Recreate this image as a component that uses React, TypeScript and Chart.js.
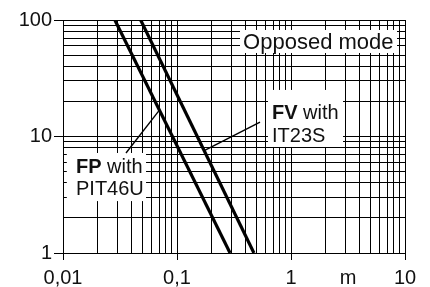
import React, { useEffect, useRef } from 'react';
import { Chart, registerables } from 'chart.js';

Chart.register(...registerables);

// ---- data ----
const fpDistance = [0.0285, 0.292];
const fpGain = [100, 1];
const fvDistance = [0.048, 0.473];
const fvGain = [100, 1];

const xMajorTicks = [0.01, 0.1, 1, 10];
const xTickLabels = ['0,01', '0,1', '1', '10'];
const xUnitTick = 3.1623;
const xUnitLabel = 'm';
const yMajorTicks = [1, 10, 100];
const yTickLabels = ['1', '10', '100'];

// ---- annotation layout (data coordinates) ----
type Part = { t: string; bold?: boolean };
const annotations: {
  box: [number, number, number, number];
  lines: Part[][];
  textX: number;
  baselines: number[];
  size: number;
  leader: [number, number, number, number] | null;
}[] = [
  {
    box: [0.357, 8.51, 82.1, 52.1],
    lines: [[{ t: 'Opposed mode' }]],
    textX: 0.38,
    baselines: [56.4],
    size: 22,
    leader: null,
  },
  {
    box: [0.628, 2.86, 25.1, 8.13],
    lines: [[{ t: 'FV', bold: true }, { t: ' with' }], [{ t: 'IT23S' }]],
    textX: 0.681,
    baselines: [14.1, 8.97],
    size: 20,
    leader: [0.535, 13.3, 0.175, 7.6],
  },
  {
    box: [0.0108, 0.0535, 7.22, 2.79],
    lines: [[{ t: 'FP', bold: true }, { t: ' with' }], [{ t: 'PIT46U' }]],
    textX: 0.013,
    baselines: [4.86, 3.15],
    size: 20,
    leader: [0.0357, 7.22, 0.069, 16.5],
  },
];

const FONT = '"Liberation Sans", Arial, sans-serif';

const near = (a: number, b: number) => Math.abs(a - b) / b < 1e-6;
const isIn = (v: number, arr: number[]) => arr.some((m) => near(v, m));

const decadeTicks = (majors: number[]) => {
  const out: { value: number }[] = [];
  for (let i = 0; i < majors.length - 1; i++) {
    for (let k = 1; k <= 9; k++) out.push({ value: Number((k * majors[i]).toPrecision(4)) });
  }
  out.push({ value: majors[majors.length - 1] });
  return out;
};

const labelPlugin = {
  id: 'boxLabels',
  beforeDatasetsDraw(chart: any) {
    const { ctx } = chart;
    const xs = chart.scales.x;
    const ys = chart.scales.y;
    ctx.save();
    for (const a of annotations) {
      const x1 = xs.getPixelForValue(a.box[0]);
      const x2 = xs.getPixelForValue(a.box[1]);
      const y1 = ys.getPixelForValue(a.box[2]);
      const y2 = ys.getPixelForValue(a.box[3]);
      ctx.fillStyle = '#fff';
      ctx.fillRect(x1, y1, x2 - x1, y2 - y1);
      ctx.fillStyle = '#111';
      ctx.textAlign = 'left';
      ctx.textBaseline = 'alphabetic';
      a.lines.forEach((line, i) => {
        let px = xs.getPixelForValue(a.textX);
        const py = ys.getPixelForValue(a.baselines[i]);
        for (const p of line) {
          ctx.font = `${p.bold ? 'bold ' : ''}${a.size}px ${FONT}`;
          ctx.fillText(p.t, px, py);
          px += ctx.measureText(p.t).width;
        }
      });
      if (a.leader) {
        ctx.strokeStyle = '#000';
        ctx.lineWidth = 1.4;
        ctx.beginPath();
        ctx.moveTo(xs.getPixelForValue(a.leader[0]), ys.getPixelForValue(a.leader[1]));
        ctx.lineTo(xs.getPixelForValue(a.leader[2]), ys.getPixelForValue(a.leader[3]));
        ctx.stroke();
      }
    }
    ctx.restore();
  },
};

export default function App() {
  const ref = useRef<HTMLCanvasElement | null>(null);
  useEffect(() => {
    if (!ref.current) return;
    const chart = new Chart(ref.current, {
      type: 'line',
      data: {
        datasets: [
          {
            label: 'FP with PIT46U',
            data: fpDistance.map((x, i) => ({ x, y: fpGain[i] })),
            borderColor: '#000',
            borderWidth: 3.2,
            pointRadius: 0,
          },
          {
            label: 'FV with IT23S',
            data: fvDistance.map((x, i) => ({ x, y: fvGain[i] })),
            borderColor: '#000',
            borderWidth: 3.2,
            pointRadius: 0,
          },
        ],
      },
      options: {
        animation: false,
        responsive: false,
        devicePixelRatio: 1,
        layout: { padding: { top: 20, right: 25, left: 0, bottom: 0 } },
        plugins: { legend: { display: false }, tooltip: { enabled: false } },
        scales: {
          x: {
            type: 'logarithmic',
            min: 0.01,
            max: 10,
            afterBuildTicks: (s: any) => {
              const t = decadeTicks(xMajorTicks);
              t.push({ value: xUnitTick });
              t.sort((a, b) => a.value - b.value);
              s.ticks = t;
            },
            afterFit: (s: any) => {
              s.height = 34;
            },
            grid: {
              color: (c: any) => (c.tick && near(c.tick.value, xUnitTick) ? 'rgba(0,0,0,0)' : '#000'),
              tickColor: (c: any) => (c.tick && isIn(c.tick.value, xMajorTicks) ? '#000' : 'rgba(0,0,0,0)'),
              lineWidth: 1,
              tickLength: 7,
            },
            border: { display: true, color: '#000', width: 1 },
            ticks: {
              autoSkip: false,
              maxRotation: 0,
              padding: 6,
              color: '#111',
              font: { family: FONT, size: 20 },
              callback: (v: any) => {
                const val = Number(v);
                const i = xMajorTicks.findIndex((m) => near(val, m));
                if (i >= 0) return xTickLabels[i];
                if (near(val, xUnitTick)) return xUnitLabel;
                return '';
              },
            },
          },
          y: {
            type: 'logarithmic',
            min: 1,
            max: 100,
            afterBuildTicks: (s: any) => {
              s.ticks = decadeTicks(yMajorTicks);
            },
            afterFit: (s: any) => {
              s.width = 63;
            },
            grid: {
              color: '#000',
              tickColor: (c: any) => (c.tick && isIn(c.tick.value, yMajorTicks) ? '#000' : 'rgba(0,0,0,0)'),
              lineWidth: 1,
              tickLength: 9,
            },
            border: { display: true, color: '#000', width: 1 },
            ticks: {
              autoSkip: false,
              padding: 2,
              color: '#111',
              font: { family: FONT, size: 20 },
              callback: (v: any) => {
                const i = yMajorTicks.findIndex((m) => near(Number(v), m));
                return i >= 0 ? yTickLabels[i] : '';
              },
            },
          },
        },
      },
      plugins: [labelPlugin],
    });
    return () => chart.destroy();
  }, []);
  return (
    <div style={{ position: 'absolute', left: 0, top: 0, width: 430, height: 287, background: '#fff' }}>
      <canvas ref={ref} width={430} height={287} style={{ display: 'block' }} />
    </div>
  );
}
